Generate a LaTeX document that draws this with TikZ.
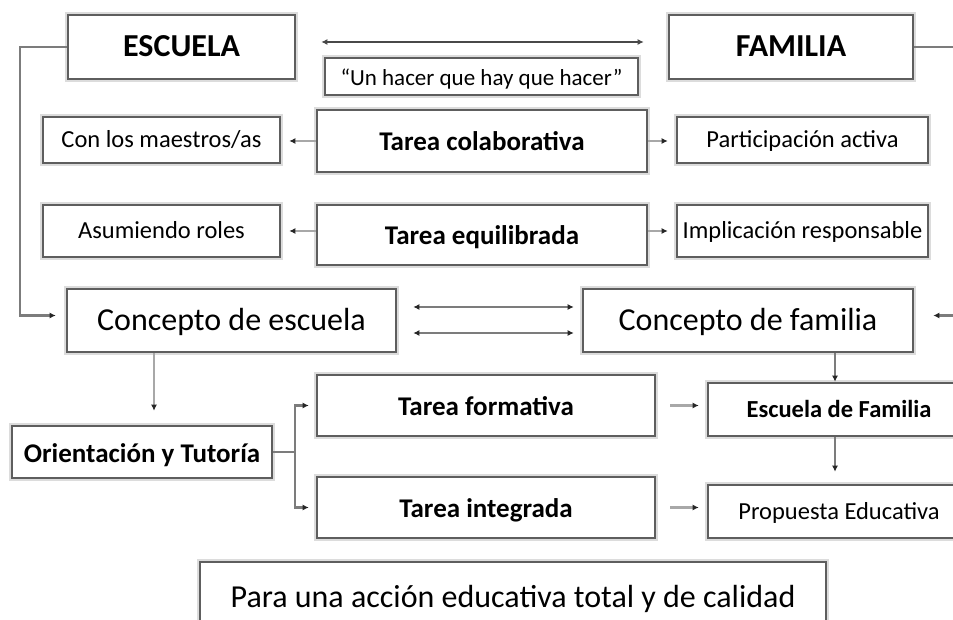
\documentclass[tikz,border=0pt]{standalone}
\usepackage{fontspec}
\setmainfont{Carlito}
\usetikzlibrary{arrows.meta}
\definecolor{edge}{HTML}{5E5E5E}
\definecolor{halo}{HTML}{DCDCDC}
\definecolor{wire}{HTML}{A8A8A8}
\definecolor{wirem}{HTML}{7C7C7C}
\definecolor{wired}{HTML}{484848}
\tikzset{
  box/.style={draw=edge, line width=2.6pt, fill=white, inner sep=0pt, align=center,
    text depth=0pt, preaction={draw=halo, line width=5.5pt}},
  big/.style={font=\fontsize{32}{36}\selectfont, text height=20pt},
  bigb/.style={font=\bfseries\fontsize{32}{36}\selectfont, text height=20pt},
  mid/.style={font=\bfseries\fontsize{27}{30}\selectfont, text height=20pt},
  sml/.style={font=\fontsize{24.5}{28}\selectfont, text height=16pt},
  smlb/.style={font=\bfseries\fontsize{24.5}{28}\selectfont, text height=15pt},
  tip/.style={-{Latex[length=6pt,width=6pt,color=black!85]}},
  arr/.style={draw=wire, line width=2.2pt, tip},
  arrm/.style={draw=wirem, line width=2.2pt, tip},
  dbl/.style={draw=wired, line width=2pt, {Latex[length=6pt,width=6pt]}-{Latex[length=6pt,width=6pt]}},
  dblm/.style={draw=wirem, line width=2.2pt, {Latex[length=6pt,width=6pt,color=black!85]}-{Latex[length=6pt,width=6pt,color=black!85]}},
  lnk/.style={draw=wirem, line width=2.2pt},
}

\begin{document}
\begin{tikzpicture}[x=1pt, y=-1pt]
  \useasboundingbox (0,0) rectangle (953,620);
  \clip (0,0) rectangle (953,620);
  % top row
  \node[box, bigb, minimum width=227, minimum height=64] (escuela) at (181.5,47) {ESCUELA};
  \node[box, bigb, minimum width=244, minimum height=64] (familia) at (791,47) {FAMILIA};
  \node[box, font=\fontsize{23}{26}\selectfont, text height=19pt, minimum width=313, minimum height=37] (hacer) at (481.5,76.5) {“Un hacer que hay que hacer”};
  % tasks
  \node[box, sml, minimum width=237, minimum height=46] (maestros) at (161.5,140) {Con los maestros/as};
  \node[box, mid, minimum width=330, minimum height=62] (tcol) at (482,141) {Tarea colaborativa};
  \node[box, sml, minimum width=251, minimum height=46] (partic) at (802.5,140) {Participación activa};
  \node[box, sml, minimum width=237, minimum height=52] (roles) at (161.5,231) {Asumiendo roles};
  \node[box, mid, minimum width=330, minimum height=60] (tequi) at (482,235) {Tarea equilibrada};
  \node[box, sml, minimum width=251, minimum height=52] (implic) at (802.5,231) {Implicación responsable};
  % concepts
  \node[box, big, minimum width=329, minimum height=63] (cescuela) at (231.5,320.5) {Concepto de escuela};
  \node[box, big, minimum width=330, minimum height=63] (cfamilia) at (748,320.5) {Concepto de familia};
  \node[box, mid, minimum width=260, minimum height=52] (orient) at (142,452) {Orientación y Tutoría};
  \node[box, mid, minimum width=338, minimum height=61] (tform) at (486,405.5) {Tarea formativa};
  \node[box, mid, minimum width=338, minimum height=61] (tint) at (486,507.5) {Tarea integrada};
  \node[box, smlb, minimum width=262, minimum height=53] (efam) at (839,409.5) {Escuela de Familia};
  \node[box, sml, minimum width=262, minimum height=53] (prop) at (839,511.5) {Propuesta Educativa};
  \node[box, big, minimum width=626, minimum height=70] (para) at (513,597) {Para una acción educativa total y de calidad};
  % connectors
  \draw[dbl, shorten <=25pt, shorten >=24pt] ([yshift=5]escuela.east) -- ([yshift=5]familia.west);
  \draw[arrm, shorten >=10pt] (escuela.west) -- ++(-47,0) |- ([yshift=5]cescuela.west);
  \coordinate (rt) at (975,47);
  \draw[arrm, shorten >=19pt] (familia.east) -- (rt) |- ([yshift=5]cfamilia.east);
  \draw[arr, shorten >=8pt] (tcol.west) -- (tcol.west -| maestros.east);
  \draw[arr, shorten >=8pt] (tcol.east) -- (tcol.east -| partic.west);
  \draw[arr, shorten >=8pt] ([yshift=4]tequi.west) -- ([yshift=4]tequi.west -| roles.east);
  \draw[arr, shorten >=8pt] ([yshift=4]tequi.east) -- ([yshift=4]tequi.east -| implic.west);
  \draw[dblm, shorten <=16pt, shorten >=8pt] ([yshift=13.5]cescuela.east) -- ([yshift=13.5]cfamilia.west);
  \draw[dblm, shorten <=16pt, shorten >=8pt] ([yshift=-12.5]cescuela.east) -- ([yshift=-12.5]cfamilia.west);
  \draw[arr, shorten >=14pt] ([xshift=12]orient.north |- cescuela.south) -- ([xshift=12]orient.north);
  \draw[arrm] ([xshift=-4]efam.north |- cfamilia.south) -- ([xshift=-4]efam.north);
  \draw[arrm, shorten >=12pt] ([xshift=-4]efam.south) -- ([xshift=-4]prop.north);
  \draw[lnk] (orient.east) -- ++(22,0) coordinate (fork);
  \draw[arrm, shorten >=7pt] (fork) |- (tform.west);
  \draw[arrm, shorten >=7pt] (fork) |- (tint.west);
  \draw[arr, shorten <=14pt, shorten >=8pt] (tform.east) -- (tform.east -| efam.west);
  \draw[arr, shorten <=14pt, shorten >=8pt] (tint.east) -- (tint.east -| prop.west);
\end{tikzpicture}
\end{document}
